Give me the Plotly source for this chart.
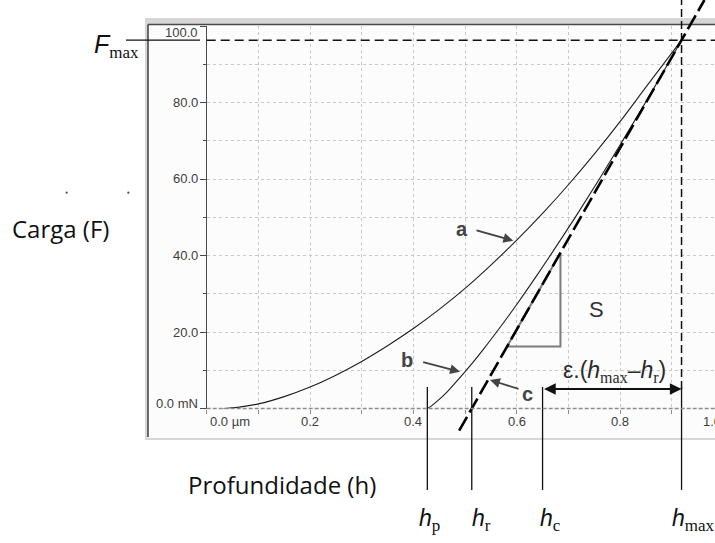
import plotly.graph_objects as go

# ---------------- data: depth h (µm) and load F (mN) ----------------
load_h = [0.032, 0.06, 0.10, 0.15, 0.20, 0.25, 0.30, 0.35, 0.40, 0.45,
          0.50, 0.55, 0.60, 0.65, 0.70, 0.75, 0.80, 0.85, 0.919]
load_F = [0.0, 0.3, 1.2, 3.1, 5.6, 8.7, 12.3, 16.4, 20.9, 25.9,
          31.4, 37.5, 44.0, 51.0, 58.5, 66.5, 75.0, 84.0, 96.3]

unload_h = [0.427, 0.435, 0.445, 0.465, 0.487, 0.51, 0.535, 0.56, 0.60, 0.64,
            0.68, 0.72, 0.76, 0.80, 0.84, 0.88, 0.919]
unload_F = [0.0, 0.7, 1.8, 4.3, 7.6, 11.2, 15.4, 19.8, 27.2, 35.0,
            43.1, 51.4, 60.0, 68.9, 77.9, 87.1, 96.3]

h_p, h_r, h_c, h_max = 0.427, 0.513, 0.650, 0.919
F_max = 96.3

x_ticks = [0.0, 0.2, 0.4, 0.6, 0.8, 1.0]
x_tick_text = ["0.0 µm", "0.2", "0.4", "0.6", "0.8", "1.0"]
y_ticks = [0, 20, 40, 60, 80, 100]
y_tick_text = ["0.0 mN", "20.0", "40.0", "60.0", "80.0", "100.0"]

# load levels of the lower and upper corner of the stiffness triangle
tri_F = [16.2, 40.7]
# load span over which the unloading tangent is drawn
tangent_F = [-5.8, 106.8]
# marker lines under the depth axis run between these loads
drop_F = [5.6, -21.3]

# ---------------- page geometry ----------------
W, H = 715, 543
X0, KX = 206.7, 516.7      # pixel of h = 0, pixels per µm
Y0, KY = 408.5, 3.825      # pixel of F = 0, pixels per mN


def xp(h):
    return (X0 + KX * h) / W


def yp(F):
    return 1 - (Y0 - KY * F) / H


def h_of_px(px):
    return (px - X0) / KX


def F_of_px(py):
    return (Y0 - py) / KY


x_end = h_of_px(W)

S = F_max / (h_max - h_r)   # contact stiffness (slope of the tangent)


def tangent_h(F):
    return h_r + F / S


INK = "#1e1e1e"
LABEL = "#444444"

fig = go.Figure()

# stiffness triangle
t0, t1 = tangent_h(tri_F[0]), tangent_h(tri_F[1])
fig.add_trace(go.Scatter(
    x=[t0, t1, t1, t0], y=[tri_F[0], tri_F[0], tri_F[1], tri_F[0]],
    mode="lines", line=dict(color="#7c7c7c", width=2),
    xaxis="x2", yaxis="y2", hoverinfo="skip", showlegend=False))

# loading (a) and unloading (b) curves
fig.add_trace(go.Scatter(x=load_h, y=load_F, mode="lines",
                         line=dict(color=INK, width=1.1, shape="spline", smoothing=1.0),
                         showlegend=False, hoverinfo="skip"))
fig.add_trace(go.Scatter(x=unload_h, y=unload_F, mode="lines",
                         line=dict(color=INK, width=1.1, shape="spline", smoothing=1.0),
                         showlegend=False, hoverinfo="skip"))

# F_max reference line
fig.add_trace(go.Scatter(x=[0, x_end], y=[F_max, F_max], mode="lines",
                         line=dict(color="#111", width=1.5, dash="9px,5px"),
                         xaxis="x2", yaxis="y2", hoverinfo="skip", showlegend=False))
fig.add_trace(go.Scatter(x=[h_of_px(126), h_of_px(200)], y=[F_max, F_max], mode="lines",
                         line=dict(color="#111", width=1.4),
                         xaxis="x2", yaxis="y2", hoverinfo="skip", showlegend=False))

# h_max reference line
fig.add_trace(go.Scatter(x=[h_max, h_max], y=[5.1, F_of_px(0)], mode="lines",
                         line=dict(color="#111", width=1.5, dash="8px,4px"),
                         xaxis="x2", yaxis="y2", hoverinfo="skip", showlegend=False))

# marker lines for h_p, h_r, h_c, h_max
vx, vy = [], []
for h in (h_p, h_r, h_c, h_max):
    vx += [h, h, None]
    vy += [drop_F[0], drop_F[1], None]
fig.add_trace(go.Scatter(x=vx, y=vy, mode="lines", line=dict(color="#111", width=1.3),
                         xaxis="x2", yaxis="y2", hoverinfo="skip", showlegend=False))

# unloading tangent (c)
fig.add_trace(go.Scatter(x=[tangent_h(f) for f in tangent_F], y=tangent_F, mode="lines",
                         line=dict(color="#000", width=2.6, dash="16px,5px"),
                         xaxis="x2", yaxis="y2", hoverinfo="skip", showlegend=False))

# ---------------- frame around the recorder plot ----------------
shapes = [
    dict(type="rect", xref="paper", yref="paper", x0=145 / W, x1=1.01,
         y0=1 - 440 / H, y1=1 - 18 / H, fillcolor="#d6d6d6", line=dict(width=0), layer="below"),
    dict(type="rect", xref="paper", yref="paper", x0=148 / W, x1=1.01,
         y0=1 - 438 / H, y1=1 - 24.5 / H, fillcolor="#fcfcfc", line=dict(width=0), layer="below"),
    dict(type="line", xref="paper", yref="paper", x0=148 / W, x1=148 / W,
         y0=1 - 437 / H, y1=1 - 24.5 / H, line=dict(color="#4a4a4a", width=1.6), layer="below"),
    dict(type="line", xref="paper", yref="paper", x0=148 / W, x1=1.01,
         y0=1 - 24.5 / H, y1=1 - 24.5 / H, line=dict(color="#4a4a4a", width=1.6), layer="below"),
    # dashed baseline of the depth axis
    dict(type="line", xref="paper", yref="paper", x0=xp(0), x1=1.0,
         y0=yp(0), y1=yp(0), line=dict(color="#8c8c8c", width=1.3, dash="4px,2px"), layer="above"),
    # two stray dots left of the frame
    dict(type="circle", xref="paper", yref="paper", x0=65.5 / W, x1=67.8 / W,
         y0=1 - 193.8 / H, y1=1 - 191.5 / H, fillcolor="#555", line=dict(width=0)),
    dict(type="circle", xref="paper", yref="paper", x0=127.2 / W, x1=129.5 / W,
         y0=1 - 193.8 / H, y1=1 - 191.5 / H, fillcolor="#555", line=dict(width=0)),
]

# ---------------- annotations ----------------
ann = []
tick_font = dict(family="Liberation Sans, Arial, sans-serif", size=13, color="#3c3c3c")

for v, t in zip(y_ticks, y_tick_text):
    shift = -7 if v == y_ticks[-1] else (5.5 if v == y_ticks[0] else 0)
    ann.append(dict(xref="paper", yref="paper", x=xp(0), y=yp(v), xshift=-7, yshift=shift,
                    text=t, showarrow=False, xanchor="right", yanchor="middle", font=tick_font))
for v, t in zip(x_ticks, x_tick_text):
    anchor = "left" if v == x_ticks[0] else ("right" if v == x_ticks[-1] else "center")
    ann.append(dict(xref="paper", yref="paper", x=xp(v), y=yp(0), yshift=-13,
                    xshift=1 if anchor == "left" else 0,
                    text=t, showarrow=False, xanchor=anchor, yanchor="middle", font=tick_font))

serif = "font-family:Liberation Serif, Times New Roman, serif"

# curve letters and S
lab_font = dict(family="Liberation Sans, Arial, sans-serif", size=20, color=LABEL)
for txt, hx, fy in (("<b>a</b>", 0.4935, 47.06), ("<b>b</b>", 0.3886, 12.68),
                    ("<b>c</b>", 0.6209, 3.92)):
    ann.append(dict(xref="x2", yref="y2", x=hx, y=fy, text=txt, showarrow=False,
                    xanchor="center", yanchor="middle", font=lab_font))
ann.append(dict(xref="x2", yref="y2", x=0.7544, y=26.01, text="S", showarrow=False,
                xanchor="center", yanchor="middle",
                font=dict(family="Liberation Sans, Arial, sans-serif", size=22, color="#333")))

# pointer arrows (head, tail)
for hx, hy, tx, ty in ((0.5934, 43.87, 0.5193, 46.67),
                       (0.4902, 9.62, 0.4161, 12.24),
                       (0.5483, 7.45, 0.6064, 5.02)):
    ann.append(dict(xref="x2", yref="y2", x=hx, y=hy, axref="x2", ayref="y2", ax=tx, ay=ty,
                    text="", showarrow=True, arrowhead=2, arrowsize=1.1, arrowwidth=1.8,
                    arrowcolor=LABEL, standoff=0, startstandoff=0))

# ε.(h_max − h_r) span arrow
ann.append(dict(xref="x2", yref="y2", x=h_max, y=5.1, axref="x2", ayref="y2", ax=h_c, ay=5.1,
                text="", showarrow=True, arrowhead=2, startarrowhead=2, arrowside="end+start",
                arrowsize=1.3, startarrowsize=1.3, arrowwidth=1.8, arrowcolor="#111",
                standoff=0, startstandoff=0))
ann.append(dict(xref="x2", yref="y2", x=0.7895, y=9.6,
                text=f"ε.(<i>h</i><sub><span style='{serif};font-size:16px'>max</span></sub>–<i>h</i>"
                     f"<sub><span style='{serif};font-size:16px'>r</span></sub>)",
                showarrow=False, xanchor="center", yanchor="middle",
                font=dict(family="Liberation Sans, Arial, sans-serif", size=23, color="#2a2a2a")))

# F_max label
ann.append(dict(xref="paper", yref="paper", x=141 / W, y=1 - 46 / H,
                text=f"<i>F</i><sub><span style='{serif};font-size:17px'>max</span></sub>",
                showarrow=False, xanchor="right", yanchor="middle",
                font=dict(family="Liberation Sans, Arial, sans-serif", size=25, color="#111")))

# depth markers under the axis
for name, left_px in (("p", 417), ("r", 470), ("c", 538), ("max", 670)):
    ann.append(dict(xref="paper", yref="paper", x=left_px / W, y=1 - 520 / H,
                    text=f"<i>h</i><sub><span style='{serif};font-size:17px'>{name}</span></sub>",
                    showarrow=False, xanchor="left", yanchor="middle",
                    font=dict(family="Liberation Sans, Arial, sans-serif", size=23, color="#111")))

# axis titles
side_font = dict(family="Open Sans, Noto Sans, sans-serif", size=24, color="#111")
ann.append(dict(xref="paper", yref="paper", x=10 / W, y=1 - 228 / H, text="Carga (F)",
                showarrow=False, xanchor="left", yanchor="middle", font=side_font))
ann.append(dict(xref="paper", yref="paper", x=186 / W, y=1 - 484 / H, text="Profundidade (h)",
                showarrow=False, xanchor="left", yanchor="middle", font=side_font))

grid = dict(color="#c9c9c9", dash="3px,3px")

fig.update_layout(
    width=W, height=H, margin=dict(l=0, r=0, t=0, b=0),
    paper_bgcolor="white", plot_bgcolor="rgba(0,0,0,0)",
    showlegend=False, shapes=shapes, annotations=ann,
    xaxis=dict(domain=[xp(0), 1], range=[0, x_end], showticklabels=False,
               dtick=0.1, tick0=0, showgrid=True, gridcolor=grid["color"], griddash=grid["dash"],
               gridwidth=1, ticks="outside", ticklen=4, tickcolor="#8c8c8c", zeroline=False,
               showline=False, fixedrange=True),
    yaxis=dict(domain=[yp(0), yp(100)], range=[0, 100], showticklabels=False,
               dtick=20, tick0=0, showgrid=True, gridcolor=grid["color"], griddash=grid["dash"],
               ticks="outside", ticklen=6, tickcolor="#4a4a4a", tickwidth=1.3,
               minor=dict(dtick=10, tick0=0, ticks="outside", ticklen=3, tickcolor="#4a4a4a",
                          showgrid=True, gridcolor=grid["color"], griddash=grid["dash"]),
               showline=True, linecolor="#4a4a4a", linewidth=1.4, zeroline=False,
               fixedrange=True),
    xaxis2=dict(domain=[0, 1], range=[h_of_px(0), x_end], anchor="y2", visible=False,
                fixedrange=True),
    yaxis2=dict(domain=[0, 1], range=[F_of_px(H), F_of_px(0)], anchor="x2", visible=False,
                fixedrange=True),
)

fig.write_html("out.html")
